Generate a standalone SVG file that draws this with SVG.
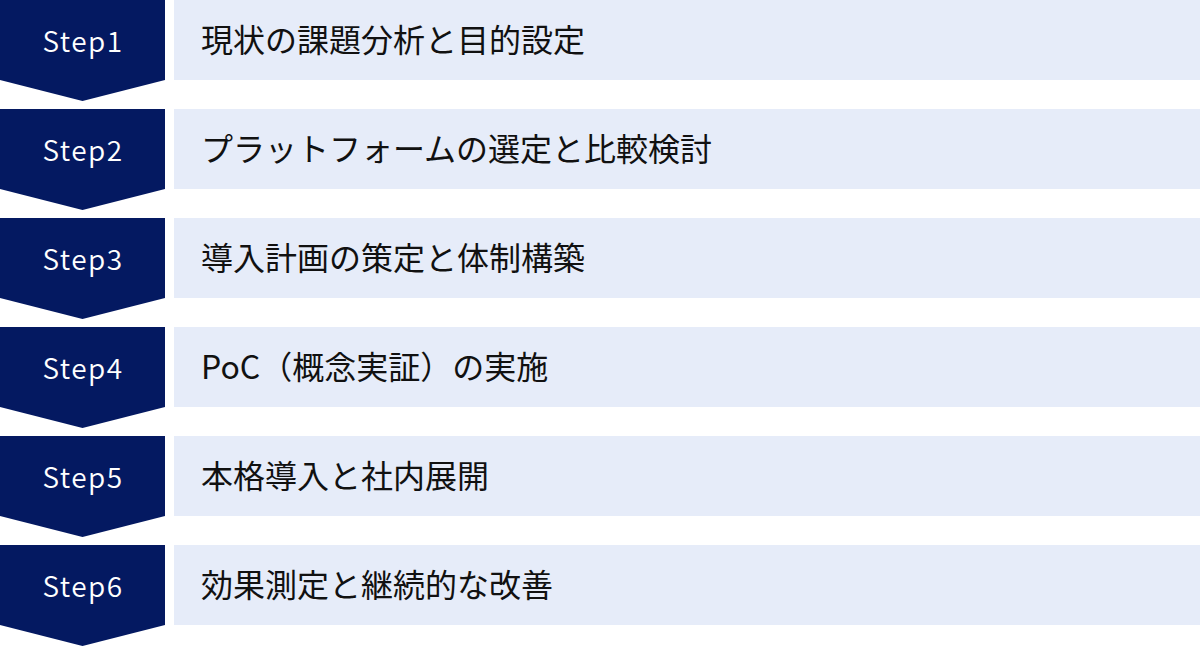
<svg xmlns="http://www.w3.org/2000/svg" width="1200" height="647" viewBox="0 0 1200 647">
<style>
.chev{fill:#041961}
.box{fill:#E6ECF9}
.st{font-family:"Noto Sans CJK JP","Noto Sans",sans-serif;font-size:28px;font-weight:350;fill:#FFFFFF;text-anchor:middle;letter-spacing:1.5px}
.lb{font-family:"Noto Sans CJK JP","Noto Sans",sans-serif;font-size:32px;font-weight:400;fill:#111111}
</style>
<defs>
<polygon id="chv" points="0,0 165,0 165,80 82.5,101 0,80"/>
</defs>
<rect width="1200" height="647" fill="#FFFFFF"/>
<g id="step1" transform="translate(0,0)">
<use href="#chv" class="chev"/>
<rect class="box" x="174" y="0" width="1026" height="80"/>
<text class="st" x="83" y="52">Step1</text>
<text class="lb" x="201" y="52">現状の課題分析と目的設定</text>
</g>
<g id="step2" transform="translate(0,109)">
<use href="#chv" class="chev"/>
<rect class="box" x="174" y="0" width="1026" height="80"/>
<text class="st" x="83" y="52">Step2</text>
<text class="lb" x="201" y="52">プラットフォームの選定と比較検討</text>
</g>
<g id="step3" transform="translate(0,218)">
<use href="#chv" class="chev"/>
<rect class="box" x="174" y="0" width="1026" height="80"/>
<text class="st" x="83" y="52">Step3</text>
<text class="lb" x="201" y="52">導入計画の策定と体制構築</text>
</g>
<g id="step4" transform="translate(0,327)">
<use href="#chv" class="chev"/>
<rect class="box" x="174" y="0" width="1026" height="80"/>
<text class="st" x="83" y="52">Step4</text>
<text class="lb" x="201" y="52">PoC（概念実証）の実施</text>
</g>
<g id="step5" transform="translate(0,436)">
<use href="#chv" class="chev"/>
<rect class="box" x="174" y="0" width="1026" height="80"/>
<text class="st" x="83" y="52">Step5</text>
<text class="lb" x="201" y="52">本格導入と社内展開</text>
</g>
<g id="step6" transform="translate(0,545)">
<use href="#chv" class="chev"/>
<rect class="box" x="174" y="0" width="1026" height="80"/>
<text class="st" x="83" y="52">Step6</text>
<text class="lb" x="201" y="52">効果測定と継続的な改善</text>
</g>
<g id="connectors"></g>
</svg>
